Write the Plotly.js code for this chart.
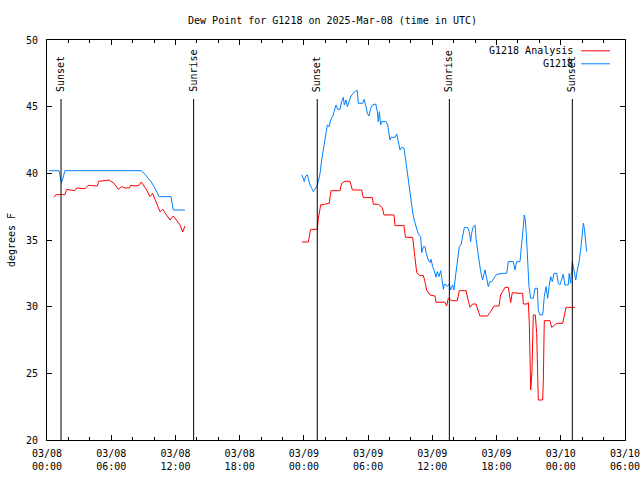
<!DOCTYPE html>
<html>
<head>
<meta charset="utf-8">
<script src="https://cdn.plot.ly/plotly-3.0.1.min.js"></script>
<style>html,body{margin:0;padding:0;background:#fff;}#chart{width:640px;height:480px;}</style>
</head>
<body>
<div id="chart"></div>
<script>
// Hours since 2025-03-08 00:00 UTC; null marks a gap in the record
const analysisHours = [0.65,0.84,1.68,1.84,2.15,2.62,2.77,3.08,3.55,3.86,4.33,4.70,4.83,5.26,5.79,6.26,6.66,6.98,7.29,7.69,7.82,8.22,8.60,8.81,9.06,9.31,9.62,9.87,10.09,10.40,10.56,10.81,11.18,11.49,11.80,12.11,12.43,12.68,12.89,
  18.0,
  23.82,24.41,24.63,25.25,25.35,25.57,26.37,26.53,27.37,27.53,27.84,28.31,28.53,29.40,29.55,30.39,30.49,30.95,31.33,31.48,32.42,32.51,33.35,33.49,34.16,34.29,34.47,34.54,34.85,35.16,35.31,35.47,35.78,36.25,36.34,37.18,37.34,37.49,37.81,38.33,38.52,39.15,39.30,39.52,39.77,40.08,40.45,41.14,41.39,41.76,42.23,42.38,42.79,43.10,43.32,43.47,44.19,44.44,44.50,44.87,44.97,45.06,45.19,45.31,45.43,45.62,45.75,45.90,46.31,46.37,46.46,46.99,47.15,47.37,47.62,48.18,48.39,48.49,49.33];
const analysisDew = [38.2,38.4,38.4,38.8,38.75,38.7,38.9,38.9,38.85,39.1,39.1,39.05,39.4,39.47,39.5,39.25,38.8,39.0,38.9,38.9,39.1,39.05,39.1,39.35,39.05,38.75,38.25,38.5,38.05,37.5,37.12,37.3,36.87,36.5,36.8,36.5,36.13,35.6,36.05,
  null,
  34.85,34.85,35.8,35.8,36.6,37.63,37.75,38.7,38.7,39.25,39.4,39.4,38.75,38.75,38.18,38.18,37.68,37.68,37.43,36.88,36.88,36.08,36.08,35.2,35.2,34.25,32.88,32.55,32.33,32.33,31.88,31.25,30.88,30.8,30.33,30.33,30.05,30.63,30.45,30.45,31.2,31.2,30.63,29.95,30.2,30.2,29.3,29.3,29.55,30.05,30.05,30.88,31.45,31.45,30.3,31.05,31.0,31.0,30.2,30.2,30.3,28.75,23.75,25.13,29.38,29.38,28.0,23.0,23.0,24.5,28.95,28.95,28.45,28.6,28.75,28.75,29.63,29.95,29.95];

const stationHours = [0.19,1.12,1.21,1.34,1.46,1.68,8.84,9.31,9.72,10.09,10.49,11.58,11.80,12.89,
  18.0,
  23.82,23.95,24.04,24.17,24.32,24.41,24.57,24.73,24.88,25.04,25.19,25.35,25.51,25.66,25.81,26.07,26.19,26.37,26.50,26.69,26.84,27.00,27.16,27.37,27.53,27.68,27.78,27.93,28.06,28.24,28.40,28.62,28.84,28.99,29.08,29.49,29.62,29.80,29.93,30.08,30.24,30.43,30.71,30.86,30.95,31.05,31.17,31.27,31.67,31.83,31.95,32.05,32.14,32.29,32.51,32.67,32.82,32.98,33.13,33.35,33.51,33.66,33.82,33.98,34.16,34.32,34.54,34.69,34.91,35.01,35.16,35.32,35.41,35.62,35.78,35.88,36.03,36.16,36.34,36.46,36.62,36.78,36.87,37.03,37.12,37.40,37.59,37.71,37.90,38.02,38.18,38.33,38.52,38.68,38.80,38.99,39.30,39.45,39.58,39.67,39.83,39.99,40.08,40.20,40.36,40.52,40.70,40.92,41.08,41.23,41.39,41.54,41.86,42.01,42.63,42.95,43.10,43.57,43.72,43.88,44.19,44.35,44.50,44.59,44.69,44.81,44.91,45.03,45.19,45.43,45.59,45.81,45.90,46.06,46.31,46.46,46.62,46.78,46.90,47.06,47.21,47.37,47.62,47.77,47.92,48.08,48.23,48.39,48.70,48.79,48.92,49.08,49.24,49.40,49.55,49.72,49.89,50.05,50.11,50.20,50.33,50.42];
const stationDew = [40.2,40.2,39.88,39.3,39.55,40.2,40.2,39.75,39.38,38.88,38.25,38.25,37.25,37.25,
  null,
  39.88,39.63,39.38,39.8,39.88,39.63,39.13,38.88,38.63,38.8,39.0,39.38,40.0,41.0,41.75,42.88,43.63,43.5,44.0,44.25,44.75,45.13,44.8,44.8,45.38,45.7,45.13,45.5,45.0,45.5,45.8,46.0,46.2,46.2,45.25,45.25,45.55,45.0,44.5,44.3,44.88,45.13,45.2,44.63,43.88,44.63,43.63,43.88,43.88,43.63,43.0,42.5,42.7,42.7,42.7,42.95,42.38,41.75,41.95,41.88,41.0,40.0,39.3,38.2,37.1,36.45,35.75,35.45,35.25,34.05,34.5,34.5,34.05,33.5,33.3,33.55,33.0,32.75,32.2,32.63,32.25,32.7,32.25,31.3,31.7,31.55,31.7,31.25,31.63,31.25,32.38,33.5,34.5,34.63,35.25,35.93,35.93,35.63,34.88,35.5,36.0,36.13,35.13,34.25,33.5,32.63,32.0,32.75,32.0,31.5,31.88,31.88,32.25,32.43,32.5,32.5,33.38,33.38,32.75,33.38,33.38,34.5,36.0,36.88,36.5,35.0,32.75,31.5,30.63,30.63,31.38,31.38,29.7,29.38,29.38,30.75,31.5,30.63,31.5,32.25,31.88,32.5,32.5,31.75,31.63,32.0,32.43,31.63,31.63,32.5,31.75,33.38,32.5,32.0,32.75,33.38,34.5,35.75,36.25,35.88,34.88,34.13];

const eventHours = [1.31, 13.70, 25.25, 37.59, 49.08];
const eventNames = ["Sunset", "Sunrise", "Sunset", "Sunrise", "Sunset"];

const tickHours = [0, 6, 12, 18, 24, 30, 36, 42, 48, 54];
const tickLabels = ["03/08<br>00:00","03/08<br>06:00","03/08<br>12:00","03/08<br>18:00","03/09<br>00:00","03/09<br>06:00","03/09<br>12:00","03/09<br>18:00","03/10<br>00:00","03/10<br>06:00"];
const yTicks = [20, 25, 30, 35, 40, 45, 50];

const seriesNames = ["G1218 Analysis", "G1218"];
const seriesColors = ["#ff0000", "#0080ff"];

const base = Date.UTC(2025, 2, 8, 0, 0, 0);
function toTime(h) {
  return new Date(base + h * 3600000).toISOString().replace("T", " ").slice(0, 23);
}

const FONT = "DejaVu Sans Mono, Liberation Mono, monospace";

const traces = [
  {x: analysisHours.map(toTime), y: analysisDew, mode: "lines", name: seriesNames[0],
   line: {color: seriesColors[0], width: 1}, connectgaps: false, hoverinfo: "skip"},
  {x: stationHours.map(toTime), y: stationDew, mode: "lines", name: seriesNames[1],
   line: {color: seriesColors[1], width: 1}, connectgaps: false, hoverinfo: "skip"}
];

const shapes = [];
const annotations = [];
eventHours.forEach((h, i) => {
  shapes.push({type: "line", xref: "x", yref: "paper", x0: toTime(h), x1: toTime(h), y0: 0, y1: 0.8525,
               line: {color: "#000", width: 1}});
  annotations.push({xref: "x", yref: "paper", x: toTime(h), y: 0.8675, text: eventNames[i],
                    textangle: -90, showarrow: false, xanchor: "center", yanchor: "bottom",
                    font: {family: FONT, size: 10, color: "#000"}, borderpad: 0});
});

// gnuplot-style key: text, then the line sample
const keyY = [0.973, 0.9405];
seriesNames.forEach((n, i) => {
  annotations.push({xref: "paper", yref: "paper", x: 0.911, y: keyY[i], text: n, showarrow: false,
                    xanchor: "right", yanchor: "middle", font: {family: FONT, size: 10, color: "#000"}, borderpad: 0});
  shapes.push({type: "line", xref: "paper", yref: "paper", x0: 0.924, x1: 0.974, y0: keyY[i], y1: keyY[i],
               line: {color: seriesColors[i], width: 1}});
});

const layout = {
  width: 640, height: 480,
  margin: {l: 47, r: 15, t: 40, b: 40, pad: 0},
  paper_bgcolor: "#fff", plot_bgcolor: "#fff",
  showlegend: false,
  font: {family: FONT, size: 10, color: "#000"},
  title: {text: "Dew Point for G1218 on 2025-Mar-08 (time in UTC)", x: 0.494, xref: "paper",
          y: 1 - 20 / 480, yref: "container", xanchor: "center", yanchor: "middle",
          font: {family: FONT, size: 10, color: "#000"}},
  xaxis: {
    type: "date", range: [toTime(0), toTime(54)],
    tickmode: "array", tickvals: tickHours.map(toTime), ticktext: tickLabels,
    ticks: "inside", ticklen: 5, tickcolor: "#000", tickwidth: 1,
    showline: true, linecolor: "#000", linewidth: 1, mirror: "ticks",
    showgrid: false, zeroline: false, ticklabeloverflow: "allow",
    minor: {tickmode: "linear", tick0: toTime(0), dtick: 2 * 3600000, ticks: "inside", ticklen: 3,
            tickcolor: "#000", tickwidth: 1, showgrid: false},
    tickfont: {family: FONT, size: 10, color: "#000"}, ticklabelstandoff: 4
  },
  yaxis: {
    range: [20, 50], tickmode: "array", tickvals: yTicks, ticktext: yTicks.map(String),
    ticks: "inside", ticklen: 5, tickcolor: "#000", tickwidth: 1,
    showline: true, linecolor: "#000", linewidth: 1, mirror: "ticks",
    showgrid: false, zeroline: false,
    tickfont: {family: FONT, size: 10, color: "#000"}, ticklabelstandoff: 6,
    title: {text: "degrees F", font: {family: FONT, size: 10, color: "#000"}, standoff: 8}
  },
  shapes: shapes,
  annotations: annotations
};

Plotly.newPlot("chart", traces, layout, {staticPlot: true, displayModeBar: false});
</script>
</body>
</html>
